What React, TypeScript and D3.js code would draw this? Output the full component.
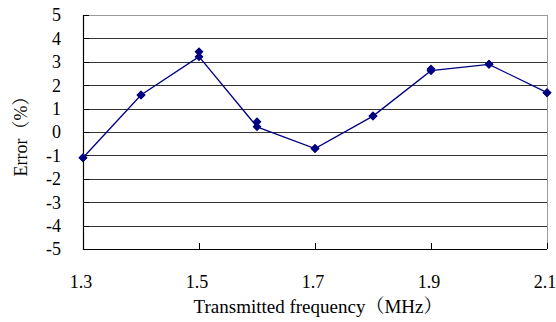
import * as d3 from "d3";

// frequency (MHz) and measured error (%), two runs that nearly overlap
const freqs = [1.3, 1.4, 1.5, 1.6, 1.7, 1.8, 1.9, 2.0, 2.1];
const errorA = [-1.1, 1.58, 3.43, 0.44, -0.71, 0.68, 2.69, 2.89, 1.68];
const errorB = [-1.1, 1.58, 3.22, 0.22, -0.71, 0.68, 2.62, 2.89, 1.68];
const xTicks = [1.3, 1.5, 1.7, 1.9, 2.1];
const yTicks = [5, 4, 3, 2, 1, 0, -1, -2, -3, -4, -5];

const W = 556;
const H = 322;
const margin = { top: 15, right: 9, bottom: 73, left: 83 };
const font = "'Liberation Serif', 'Noto Serif CJK SC', 'Noto Sans CJK SC', serif";
const navy = "#000080";

function App() {
  const x = d3
    .scaleLinear()
    .domain([1.3, 2.1])
    .range([margin.left, W - margin.right]);
  const y = d3
    .scaleLinear()
    .domain([-5, 5])
    .range([H - margin.bottom, margin.top]);

  const line = d3
    .line<number>()
    .x((_, i) => x(freqs[i]))
    .y((d) => y(d));

  const diamond = (cx: number, cy: number) => {
    const r = 4.5;
    return `M${cx},${cy - r}L${cx + r},${cy}L${cx},${cy + r}L${cx - r},${cy}Z`;
  };

  const x0 = x.range()[0];
  const x1 = x.range()[1];
  const yBottom = y(-5);
  const yTop = y(5);

  return (
    <svg
      width={W}
      height={H}
      style={{ position: "absolute", left: 0, top: 0, background: "#fff", fontFamily: font }}
    >
      {/* grid lines */}
      {yTicks.map((t) => (
        <line
          key={"g" + t}
          x1={x0}
          x2={x1}
          y1={Math.round(y(t)) + 0.5}
          y2={Math.round(y(t)) + 0.5}
          stroke={t === 5 ? "#999" : "#333"}
          strokeWidth={1}
        />
      ))}
      {/* right border */}
      <line x1={x1 + 0.5} x2={x1 + 0.5} y1={yTop} y2={yBottom} stroke="#999" />
      {/* axes */}
      <line x1={x0 + 0.5} x2={x0 + 0.5} y1={yTop} y2={yBottom + 1} stroke="#000" strokeWidth={1.2} />
      <line x1={x0} x2={x1} y1={Math.round(yBottom) + 0.5} y2={Math.round(yBottom) + 0.5} stroke="#000" strokeWidth={1.2} />
      {/* y ticks (inside) */}
      {yTicks.map((t) => (
        <line
          key={"yt" + t}
          x1={x0}
          x2={x0 + 6}
          y1={Math.round(y(t)) + 0.5}
          y2={Math.round(y(t)) + 0.5}
          stroke="#000"
        />
      ))}
      {/* x ticks (inside) */}
      {xTicks.map((t) => (
        <line
          key={"xt" + t}
          x1={Math.round(x(t)) + 0.5}
          x2={Math.round(x(t)) + 0.5}
          y1={yBottom}
          y2={yBottom - 6}
          stroke="#000"
        />
      ))}
      {/* y tick labels */}
      {yTicks.map((t) => (
        <text
          key={"yl" + t}
          x={61}
          y={y(t)}
          dy="0.35em"
          textAnchor="end"
          fontSize={18}
          fill="#000"
        >
          {t}
        </text>
      ))}
      {/* x tick labels */}
      {xTicks.map((t) => (
        <text
          key={"xl" + t}
          x={x(t) - 2}
          y={288}
          textAnchor="middle"
          fontSize={18}
          fill="#000"
        >
          {t.toFixed(1)}
        </text>
      ))}
      {/* series: one connecting line, markers for both runs */}
      <path d={line(errorB) ?? ""} fill="none" stroke={navy} strokeWidth={1.3} />
      {[errorA, errorB].map((s, k) => (
        <g key={"s" + k}>
          {s.map((v, i) => (
            <path key={i} d={diamond(x(freqs[i]), y(v))} fill={navy} />
          ))}
        </g>
      ))}
      {/* axis titles */}
      <text x={318} y={313} textAnchor="middle" fontSize={19} fill="#000">
        Transmitted frequency（MHz）
      </text>
      <text
        transform={`translate(27,${(yTop + yBottom) / 2}) rotate(-90)`}
        textAnchor="middle"
        fontSize={18}
        fill="#000"
      >
        Error（%）
      </text>
    </svg>
  );
}

export default App;
